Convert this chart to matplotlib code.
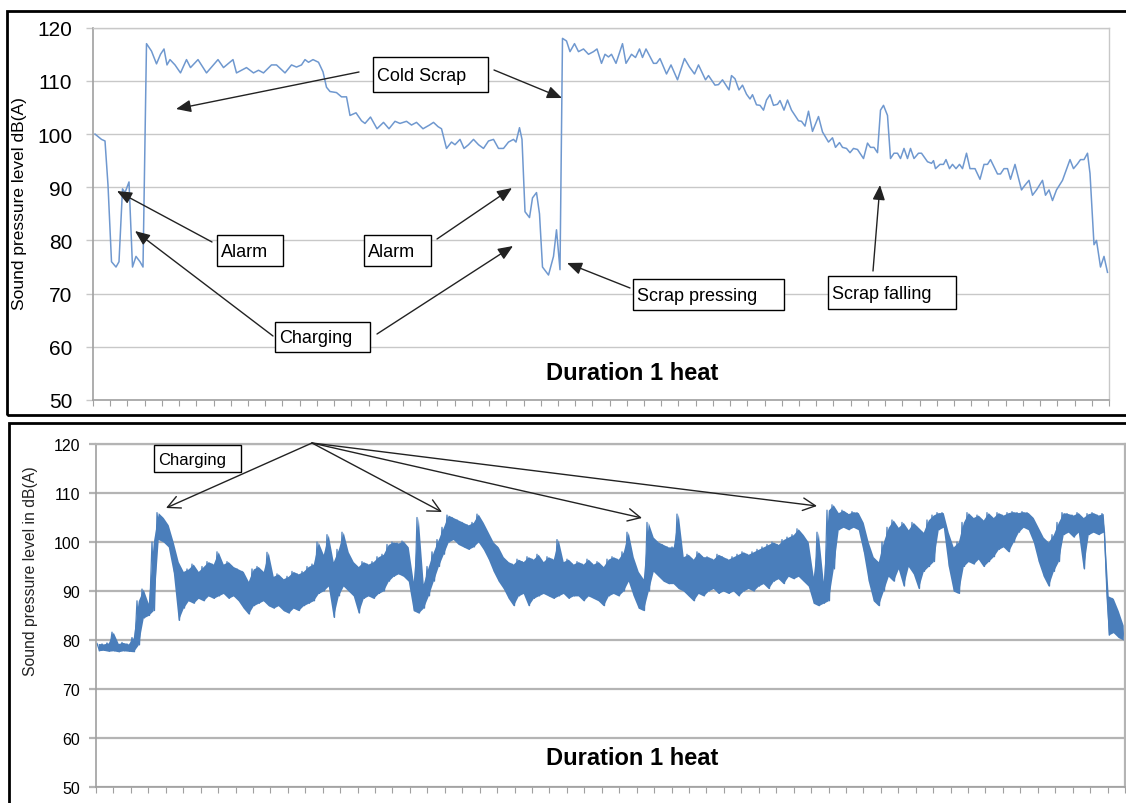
import matplotlib
matplotlib.use('Agg')
import matplotlib.pyplot as plt
import numpy as np
from matplotlib.patches import Rectangle, FancyArrowPatch

plt.rcParams['font.family'] = ['Liberation Sans', 'DejaVu Sans']

W, H = 1126, 804

# upper chart: one reading per sample (sample index, dB(A))
top_t = [0.4, 1.7, 2.4, 3.0, 3.7, 4.6, 5.2, 5.9, 6.4, 7.2, 7.9, 8.6, 9.4, 10.0, 10.7, 11.7, 12.7, 13.5, 14.2,
         14.8, 15.4, 16.4, 17.5, 18.7, 19.5, 21.0, 22.7, 25.0, 26.1, 28.0, 28.7, 30.7, 32.1, 33.1, 34.1, 35.7,
         36.7, 38.4, 39.7, 40.7, 41.7, 42.4, 43.1, 44.0, 45.1, 46.0, 46.7, 47.4, 48.7, 49.7, 50.7, 51.4, 52.6,
         53.7, 54.4, 55.5, 56.8, 58.1, 59.2, 60.4, 61.4, 62.7, 63.7, 64.7, 66.0, 67.3, 68.1, 69.0, 69.7, 70.7,
         71.7, 72.4, 73.4, 74.2, 75.1, 76.1, 77.1, 78.1, 79.1, 80.1, 81.1, 82.1, 83.1, 84.1, 84.6, 85.3, 85.8,
         86.4, 87.3, 87.9, 88.7, 89.3, 89.9, 91.1, 92.1, 92.7, 93.4, 93.9, 94.7, 95.4, 96.3, 97.1, 98.1, 99.1,
         100.1, 100.8, 101.7, 102.4, 103.1, 103.7, 104.6, 105.9, 106.6, 107.7, 108.5, 109.3, 109.9, 110.6,
         112.1, 112.7, 113.4, 114.7, 115.6, 116.9, 118.3, 119.3, 120.3, 121.1, 122.5, 123.1, 124.4, 125.1,
         125.9, 127.2, 127.7, 128.4, 129.2, 129.9, 130.7, 131.4, 131.9, 132.7, 133.4, 134.1, 134.7, 135.4,
         136.1, 136.9, 137.4, 138.2, 138.9, 139.7, 141.1, 141.7, 142.4, 143.1, 143.9, 145.1, 145.9, 147.1,
         147.9, 148.5, 149.3, 149.9, 150.7, 151.4, 152.1, 152.9, 154.1, 154.9, 155.5, 156.2, 156.9, 157.5,
         158.1, 158.9, 159.5, 160.2, 160.9, 161.5, 162.2, 162.9, 163.5, 164.2, 165.1, 165.7, 166.9, 167.7,
         168.1, 168.5, 169.4, 170.1, 170.6, 171.3, 171.9, 172.6, 173.3, 173.9, 174.7, 175.4, 176.4, 177.4,
         178.2, 178.9, 179.5, 180.9, 181.5, 182.2, 182.9, 183.5, 184.4, 185.7, 186.4, 187.2, 187.9, 188.7,
         189.9, 190.5, 191.2, 191.9, 192.7, 193.9, 195.4, 196.1, 196.9, 197.5, 198.2, 198.9, 199.4, 200.2,
         200.7, 201.5, 202.2, 202.9]
top_db = [100, 99, 98.7, 90.4, 76, 75, 76, 89.7, 89, 91, 75, 77, 76, 75, 117, 115.6, 113.2, 115, 116,
          113, 114, 113, 111.5, 114, 112.5, 114, 111.5, 114, 112.5, 114, 111.5, 112.5, 111.5, 112, 111.5, 113,
          113, 111.5, 113, 112.6, 113, 114, 113.5, 114, 113.5, 111.7, 108.8, 108, 107.8, 107, 107, 103.5, 104,
          102.5, 102, 103.2, 101, 102.2, 101, 102.4, 102, 102.4, 101.7, 102.2, 101, 101.7, 102.2, 101.4, 101, 97.3,
          98.5, 98, 99, 97.3, 98, 99, 98, 97.3, 98.7, 99, 97.3, 97.3, 98.5, 99, 98.5, 101.2, 99,
          85.4, 84.3, 88, 89, 85, 75, 73.5, 77, 82, 74.5, 118, 117.5, 115.5, 117, 115.5, 116, 115,
          115.5, 116, 113.3, 115, 114.5, 115, 113.3, 117, 113.3, 115, 114.4, 116, 114.4, 116,
          113.3, 113.3, 114.2, 111.3, 113, 110.2, 114.2, 112.6, 111.3, 113, 110.2, 111, 109.2, 109.3,
          110.2, 108.3, 111, 110.4, 108.3, 109.2, 107.5, 106.6, 107.4, 105.5, 105.4, 104.5, 106.4, 107.4,
          105.4, 105.6, 106.3, 104.5, 106.4, 104.5, 102.5, 102.4, 101.5, 104.3, 100.5, 103.3, 100.4, 98.5,
          99.3, 97.5, 98.4, 97.5, 97.3, 96.5, 97.3, 97.1, 95.4, 98.3, 97.5, 97.5, 96.5, 104.5,
          105.4, 103.5, 95.4, 96.4, 96.4, 95.4, 97.3, 95.4, 97.3, 95.4, 96.4, 96.4, 94.8, 94.5,
          95, 93.5, 94.3, 94.3, 95.2, 93.5, 94.3, 93.5, 94.3, 93.5, 96.4, 93.5, 93.5, 91.5,
          94.3, 94.3, 95.2, 92.5, 92.5, 93.5, 93.5, 91.5, 94.3, 89.5, 90.4, 91.3, 88.5, 89.5,
          91.3, 88.5, 89.5, 87.5, 89.5, 91.3, 95.2, 93.5, 94.4, 95.2, 95.2, 96.4, 92.6, 79.2,
          80, 75, 77, 74]

# lower chart: dense record, min and max reading per block of samples
bot_lo = [77.8, 77.9, 77.7, 77.8, 77.6, 77.8, 77.7, 77.6,
          79, 84.5, 85, 86, 100.5, 100, 99, 93.8, 84,
          86.5, 88, 87.5, 88.5, 88, 89, 88.5,
          89, 89.5, 88.5, 89, 88, 86.5, 85.3,
          87, 87.5, 88, 87,
          86.5, 87, 86, 85.5, 86.5, 86, 87, 87.5, 88,
          89.5, 90, 91, 84.6,
          89, 91, 90,
          89, 85.5, 88.5, 89, 88.5, 89.5, 90,
          92, 93, 93.5, 93, 92,
          86, 85.5, 86.5,
          89, 92, 95, 97.5,
          100, 100.5, 99.5, 99, 98.5, 99, 100, 98.5,
          96.5, 94, 92, 90.5, 88.5,
          87, 89, 89.5, 87, 88.5, 89, 89.5, 89, 88.5, 89, 89.5, 88.5, 89, 89, 88, 89, 88.5, 88, 87, 89, 89.5, 89,
          90, 92, 89, 86.5, 86, 90,
          94, 93, 92, 91.5, 91.5, 90.5,
          90, 89, 88, 89.5, 89,
          90, 90.5, 89.5, 90, 89.5, 90, 89, 90, 90.5, 90,
          91, 91.5, 90.5, 92, 92.5, 91.5, 93, 92.5, 93, 92,
          91, 87.5, 87, 87.5, 88, 94.5,
          102.5, 103, 102.5, 103, 102.5,
          98, 92, 88, 87, 90,
          93, 92, 94.5, 91, 95, 93.5, 90.5, 94, 95, 96, 102.5, 103,
          95, 90, 89.5,
          95, 96, 95.5, 96.5, 95, 96,
          97, 98.5, 99, 98, 100, 102, 103, 102.5, 100,
          96, 93, 91, 94, 96,
          101.5, 102, 101, 102, 94.5, 101.5, 102, 101.5, 102,
          81, 81.5, 80.5, 80]
bot_hi = [79.3, 79.2, 79.4, 81.6, 79.3, 79.5, 79.2, 80.5,
          88, 90.4, 87.5, 100, 106, 105, 103.5, 100, 96,
          94, 94.5, 95.5, 94, 95, 96, 95.5,
          98, 95.5, 96, 95, 94.5, 94, 92,
          94.5, 95, 94, 97.9,
          93, 93.5, 92.5, 93, 94, 93.5, 94, 95, 95.5,
          100, 97.5, 101.5, 96,
          98.5, 102, 98,
          96, 95, 96, 95.5, 96, 97, 97.5,
          99.5, 100, 99.8, 100.2, 99,
          92, 105, 91.5,
          95, 98, 100.5, 103,
          105.5, 105, 104.5, 104, 103.5, 104, 105.7, 104,
          102, 100, 99, 97, 96,
          95.5, 96.5, 96, 97, 96.5, 97.5, 96, 97, 96.5, 100.5, 96, 96.5, 95.5, 96, 95.5, 96.5, 95.5, 96, 95, 96.5, 97, 96.5,
          98, 102, 97, 94, 92.5, 104,
          101, 100, 99.5, 99, 99, 105.7,
          97, 97.5, 96.5, 98, 97,
          97, 96.5, 97.5, 97, 96.5, 97, 97.5, 98, 97.5, 98,
          98.5, 99, 99.5, 100, 99.5, 100.5, 101, 101.5, 102.7, 101.5,
          100, 93, 102, 92, 106.5, 107.6,
          106, 106.5, 105.8, 106.2, 106,
          104, 100, 97, 96, 100,
          103, 104.5, 103, 104, 102.5, 104, 103, 102, 104.5, 105.5, 106, 106,
          102, 99, 100,
          104, 106, 105, 105.5, 104.5, 106,
          105, 106, 105.5, 106, 106.2, 106, 106.2, 106, 105,
          103, 101, 100, 101.5, 104,
          106, 105.8, 105.5, 106, 105, 105.8, 106, 105.5, 105.8,
          89, 88.5, 86, 83]

y_ticks = [50, 60, 70, 80, 90, 100, 110, 120]


def fx(x, y):
    # pixel position in the picture -> figure fraction
    return (x / W, 1 - y / H)


fig = plt.figure(figsize=(W / 100, H / 100), dpi=100)

ax1 = fig.add_axes([93 / W, 1 - 401 / H, (1109 - 93) / W, (401 - 28.7) / H])
ax2 = fig.add_axes([96 / W, 1 - 788 / H, (1125 - 96) / W, (788 - 445) / H])

# --- upper chart
ax1.plot(top_t, top_db, color='#6f98cf', lw=1.1)
ax1.set_xlim(0, 203.2)
ax1.set_xticks(np.linspace(0, 203.2, 60))

# --- lower chart: band between block min/max, plus zigzag through them
n = len(bot_lo)
blk = np.arange(n) + 0.25
ax2.fill_between(blk, bot_lo, bot_hi, color='#4a7ebb', lw=0)
t = np.repeat(np.arange(n), 2) + np.tile([0.0, 0.5], n)
vals = np.column_stack([bot_hi, bot_lo]).ravel()
ax2.plot(t, vals, color='#4a7ebb', lw=0.9)
ax2.set_xlim(-0.2, 205.6)
ax2.set_xticks(np.linspace(-0.2, 205.6, 60))

for ax, gc, glw, lsize, pad in [(ax1, '#c8c8c8', 1.0, 15, 10), (ax2, '#b4b4b4', 1.6, 11.5, 6.5)]:
    ax.set_ylim(50, 120)
    ax.set_yticks(y_ticks)
    ax.grid(axis='y', color=gc, lw=glw)
    ax.set_axisbelow(True)
    ax.tick_params(axis='y', length=5, color=gc, width=glw, pad=pad, labelsize=lsize)
    ax.tick_params(axis='x', length=4.5, color='#a0a0a0', labelbottom=False)
    for s in ['left', 'bottom']:
        ax.spines[s].set_color('#a0a0a0')
        ax.spines[s].set_linewidth(1.2)
    for s in ['top', 'right']:
        ax.spines[s].set_color(gc)
        ax.spines[s].set_linewidth(glw)

fig.text(*fx(20, 204), 'Sound pressure level dB(A)', rotation=90, ha='center', va='center', fontsize=12.5)
fig.text(*fx(31, 571), 'Sound pressure level in dB(A)', rotation=90, ha='center', va='center',
         fontsize=11.3, color='#222222')
fig.text(*fx(632, 374), 'Duration 1 heat', ha='center', va='center', fontsize=17, fontweight='bold')
fig.text(*fx(632, 759), 'Duration 1 heat', ha='center', va='center', fontsize=17, fontweight='bold')


def box(x0, y0, x1, y1, text, size):
    fig.add_artist(Rectangle(fx(x0, y1), (x1 - x0) / W, (y1 - y0) / H, transform=fig.transFigure,
                             facecolor='white', edgecolor='black', lw=1, zorder=5))
    fig.text(*fx(x0 + 4, (y0 + y1) / 2 + 1), text, ha='left', va='center', fontsize=size, zorder=6)


def arrow(tail, tip, style):
    fig.add_artist(FancyArrowPatch(fx(*tail), fx(*tip), transform=fig.transFigure, arrowstyle=style,
                                   color='#222222', lw=1, mutation_scale=15, shrinkA=0, shrinkB=0,
                                   zorder=7))


filled = '-|>,head_length=0.6,head_width=0.25'
arrow((359, 73), (176, 110), filled)
arrow((494, 71), (562, 99), filled)
arrow((212, 243), (117, 192), filled)
arrow((273, 337), (135, 232), filled)
arrow((437, 240), (512, 189), filled)
arrow((377, 335), (513, 247), filled)
arrow((630, 289), (567, 264), filled)
arrow((873, 272), (880, 186), filled)

box(373, 58, 488, 93, 'Cold Scrap', 13)
box(217, 236, 283, 267, 'Alarm', 13)
box(364, 236, 431, 267, 'Alarm', 13)
box(275, 323, 370, 353, 'Charging', 13)
box(633, 280, 784, 311, 'Scrap pressing', 13)
box(828, 277, 956, 310, 'Scrap falling', 13)

opened = '->,head_length=0.6,head_width=0.3'
for tip in [(166, 509), (442, 513), (642, 519), (817, 507)]:
    arrow((312, 444), tip, opened)
box(154, 446, 241, 473, 'Charging', 12)

# panel frames
fig.add_artist(Rectangle(fx(7, 416), (1140 - 7) / W, (416 - 12) / H, transform=fig.transFigure,
                         fill=False, edgecolor='black', lw=2, zorder=8))
fig.add_artist(Rectangle(fx(9, 812), (1140 - 9) / W, (812 - 424) / H, transform=fig.transFigure,
                         fill=False, edgecolor='black', lw=2, zorder=8))

fig.savefig('out.png', dpi=100)
